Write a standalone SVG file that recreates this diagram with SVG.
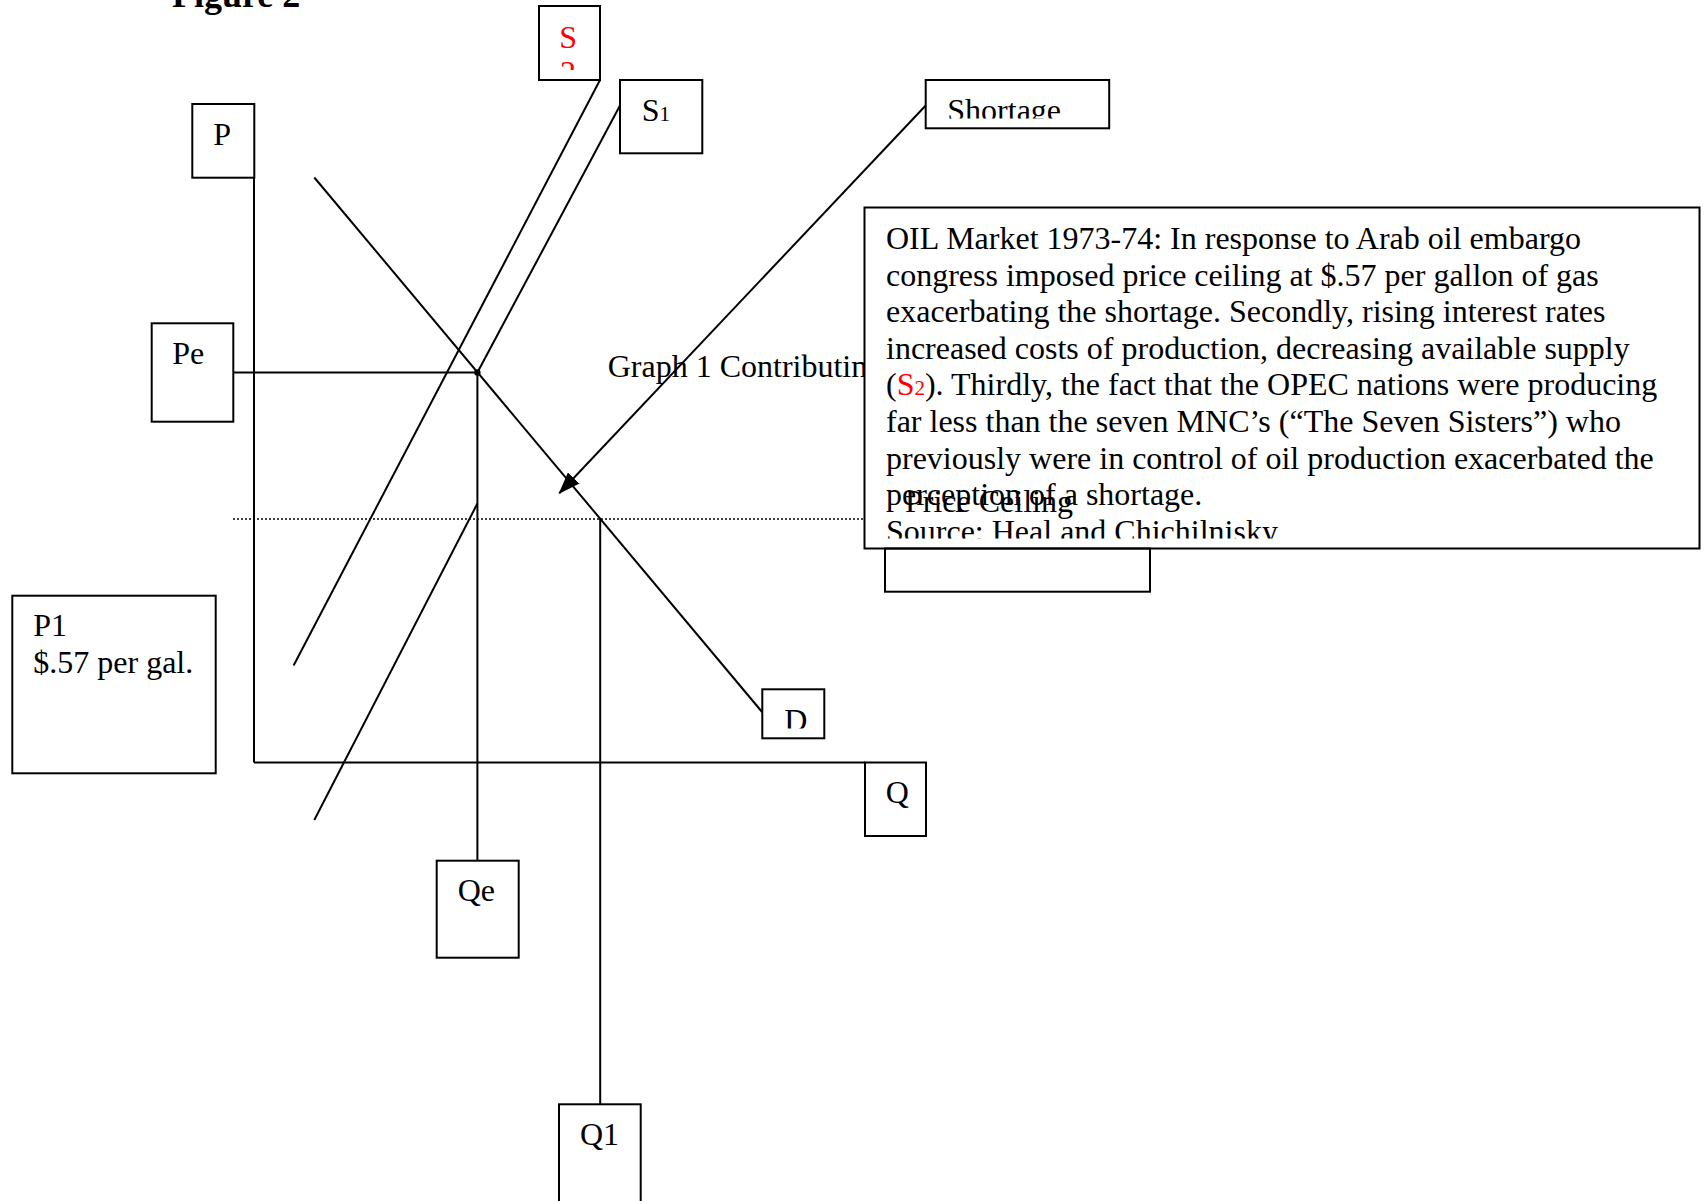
<svg xmlns="http://www.w3.org/2000/svg" width="1705" height="1201" viewBox="0 0 1705 1201">
<style>
.box{fill:#fff;stroke:#000;stroke-width:2}
.boxn{fill:none;stroke:#000;stroke-width:2}
.ln{fill:none;stroke:#000;stroke-width:2}
.dot{fill:none;stroke:#000;stroke-width:1.5;stroke-dasharray:2 2}
.t{font-family:"Liberation Serif","Times New Roman",serif;font-size:32px;fill:#000}
.red{fill:#ff0000}
.sub{font-size:21px}
</style>
<defs>
<marker id="arrow" markerUnits="userSpaceOnUse" viewBox="0 0 22 16" refX="21" refY="8" markerWidth="22" markerHeight="16" orient="auto">
<path d="M0,0 L22,8 L0,16 z" fill="#000"/>
</marker>
<clipPath id="clipS2"><rect x="539" y="6" width="61" height="64"/></clipPath>
<clipPath id="clipShort"><rect x="925" y="80" width="185" height="38.5"/></clipPath>
<clipPath id="clipD"><rect x="762" y="689" width="62" height="39.5"/></clipPath>
<clipPath id="clipText"><rect x="864" y="207" width="836" height="331.5"/></clipPath>
</defs>

<text id="title" x="172" y="7" class="t" style="font-weight:bold;font-size:36px">Figure 2</text>

<g id="connectors">
<line class="ln" x1="254" y1="177.7" x2="254" y2="762.5"/>
<line class="ln" x1="254" y1="762.5" x2="865" y2="762.5"/>
<line class="ln" x1="233" y1="372.5" x2="477.4" y2="372.5"/>
<line class="ln" x1="477.4" y1="372.5" x2="477.4" y2="860.7"/>
<line class="dot" x1="233" y1="519" x2="864" y2="519"/>
<line class="ln" x1="600.2" y1="519" x2="600.2" y2="1104.3"/>
<line class="ln" x1="314.3" y1="177.5" x2="762.5" y2="712.5"/>
<line class="ln" x1="600" y1="80" x2="293.6" y2="665.5"/>
<line class="ln" x1="620" y1="105.5" x2="477.4" y2="372.5"/>
<line class="ln" x1="477.4" y1="503.5" x2="314.3" y2="820"/>
<line class="ln" x1="925.7" y1="105.5" x2="559.3" y2="493.3" marker-end="url(#arrow)"/>
<circle cx="477.4" cy="372.5" r="3.2" fill="#000"/>
</g>

<g id="node-S2">
<rect class="box" x="539" y="6" width="61" height="74"/>
<g clip-path="url(#clipS2)">
<text class="t red" x="559.3" y="48.3">S</text>
<text class="t red" x="560" y="83">2</text>
</g>
</g>

<g id="node-S1">
<rect class="box" x="620" y="80" width="82.3" height="73.3"/>
<text class="t" x="641.7" y="120.7">S<tspan class="sub">1</tspan></text>
</g>

<g id="node-P">
<rect class="box" x="192.3" y="104" width="62" height="73.7"/>
<text class="t" x="213.3" y="145">P</text>
</g>

<g id="node-shortage">
<rect class="box" x="925.7" y="80" width="183.5" height="48.3"/>
<text class="t" x="947.3" y="120.5" clip-path="url(#clipShort)">Shortage</text>
</g>

<g id="node-Pe">
<rect class="box" x="151.7" y="323.3" width="81.6" height="98.4"/>
<text class="t" x="172.3" y="364">Pe</text>
</g>

<g id="node-P1">
<rect class="box" x="12.3" y="595.7" width="203.4" height="177.6"/>
<text class="t" x="33.3" y="636">P1</text>
<text class="t" x="33.3" y="673.3">$.57 per gal.</text>
</g>

<g id="node-D">
<rect class="box" x="762.3" y="689.3" width="62" height="49"/>
<text class="t" x="784.3" y="731" clip-path="url(#clipD)">D</text>
</g>

<g id="node-Q">
<rect class="box" x="865" y="762.5" width="61" height="73.5"/>
<text class="t" x="885.7" y="803.3">Q</text>
</g>

<g id="node-Qe">
<rect class="box" x="436.7" y="860.7" width="82" height="97"/>
<text class="t" x="457.7" y="901">Qe</text>
</g>

<g id="node-Q1">
<rect class="box" x="559" y="1104.3" width="81.7" height="110"/>
<text class="t" x="580" y="1145">Q1</text>
</g>

<g id="label-graph1">
<text class="t" x="607.7" y="377.3">Graph 1 Contributin</text>
</g>

<g id="node-textbox">
<rect class="box" x="864.5" y="207.5" width="835" height="341"/>
<g clip-path="url(#clipText)">
<text class="t" x="886" y="249">OIL Market 1973-74: In response to Arab oil embargo</text>
<text class="t" x="886" y="285.6">congress imposed price ceiling at $.57 per gallon of gas</text>
<text class="t" x="886" y="322.2">exacerbating the shortage. Secondly, rising interest rates</text>
<text class="t" x="886" y="358.8">increased costs of production, decreasing available supply</text>
<text class="t" x="886" y="395.4">(<tspan class="red">S</tspan><tspan class="red sub">2</tspan>). Thirdly, the fact that the OPEC nations were producing</text>
<text class="t" x="886" y="432">far less than the seven MNC’s (“The Seven Sisters”) who</text>
<text class="t" x="886" y="468.6">previously were in control of oil production exacerbated the</text>
<text class="t" x="886" y="505.2">perception of a shortage.</text>
<text class="t" x="886" y="541.8">Source: Heal and Chichilnisky</text>
</g>
</g>

<g id="node-price-ceiling">
<rect class="boxn" x="885" y="548.5" width="265" height="43.2"/>
<text class="t" x="905" y="512">Price Ceiling</text>
</g>
</svg>
